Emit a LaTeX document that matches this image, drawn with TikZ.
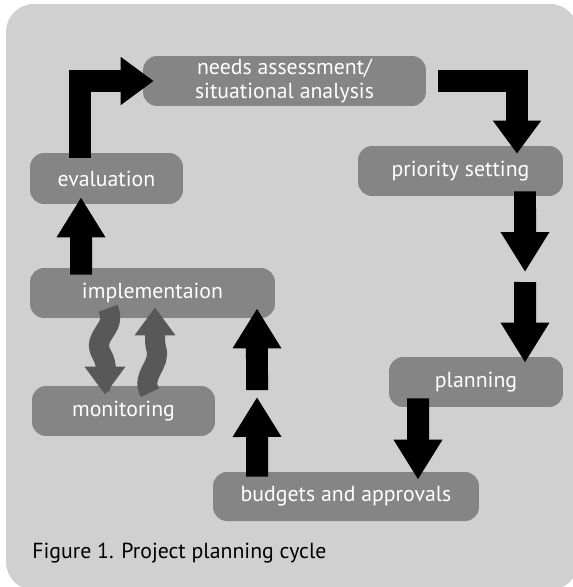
\documentclass[tikz,border=0pt]{standalone}
\usepackage{fontspec}
\setmainfont{PT Sans}
\usetikzlibrary{arrows.meta}
\definecolor{bggray}{RGB}{208,208,208}
\definecolor{boxgray}{RGB}{133,133,133}
\definecolor{wavegray}{RGB}{88,88,88}
\begin{document}
\begin{tikzpicture}[x=0.02cm, y=-0.02cm,
    stage/.style={fill=boxgray, rounded corners=0.28cm, text=white, font=\fontsize{12.4}{13.5}\selectfont, align=center, inner sep=0pt},
    blk/.style={line width=0.44cm, black, -{Triangle[width=0.92cm,length=0.8cm]}},
    wave/.style={line width=0.4cm, wavegray, -{Triangle[width=0.78cm,length=0.56cm]}}]
    \useasboundingbox (0,0) rectangle (572,587);
    \fill[bggray, rounded corners=0.56cm] (6,4) rectangle (578,590);
    % stages of the cycle
    \node[stage, minimum width=5.66cm, minimum height=1cm] (needs) at (284.5,81){needs assessment/\\situational analysis};
    \node[stage, minimum width=4.1cm, minimum height=1cm] (prio) at (460.5,171){priority setting};
    \node[stage, minimum width=3.48cm, minimum height=1cm] (plan) at (476,382){planning};
    \node[stage, minimum width=5.32cm, minimum height=0.98cm] (budget) at (346,496.5){budgets and approvals};
    \node[stage, minimum width=4.9cm, minimum height=1cm] (impl) at (152.5,293){implementaion};
    \node[stage, minimum width=3.66cm, minimum height=1cm] (mon) at (123.5,411){monitoring};
    \node[stage, minimum width=3.06cm, minimum height=1.02cm] (eval) at (106.5,178.5){evaluation};
    \coordinate (gapR) at (525,277);
    \coordinate (gapL) at (257,393.5);
    % block arrows
    \draw[blk, -{Triangle[width=0.92cm,length=0.66cm]}] ([xshift=-0.53cm,yshift=-0.1cm]eval.north) |- ([xshift=0.22cm]needs.west);
    \draw[blk, -{Triangle[width=0.92cm,length=0.66cm]}] ([xshift=0.24cm]needs.east) -| ([xshift=1.13cm,yshift=-0.16cm]prio.north);
    \draw[blk] ([xshift=1.29cm,yshift=0.1cm]prio.south) -- ([yshift=0.1cm]gapR);
    \draw[blk] ([yshift=-0.1cm]gapR) -- ([xshift=0.98cm,yshift=-0.12cm]plan.north);
    \draw[blk] ([xshift=-1.16cm,yshift=0.18cm]plan.south) -- ([xshift=1.44cm,yshift=-0.16cm]budget.north);
    \draw[blk] ([xshift=-1.78cm,yshift=-0.1cm]budget.north) -- ([yshift=-0.07cm]gapL);
    \draw[blk] ([yshift=0.07cm]gapL) -- ([xshift=2.09cm,yshift=0.2cm]impl.south);
    \draw[blk] ([xshift=-1.43cm,yshift=-0.14cm]impl.north) -- ([xshift=-0.51cm,yshift=0.14cm]eval.south);
    % wavy arrows
    \draw[wave] ([xshift=-0.89cm,yshift=0.2cm]impl.south) .. controls (118,330) and (90,335) .. (102,355) .. controls (108,365) and (105,375) .. ([xshift=-0.37cm,yshift=-0.18cm]mon.north);
    \draw[wave] ([xshift=0.53cm,yshift=-0.14cm]mon.north) .. controls (140,375) and (162,365) .. (156,348) .. controls (155,343) and (155,340) .. ([xshift=0.05cm,yshift=0.22cm]impl.south);
    \node (cap) at (32,553)[anchor=west, inner sep=0pt, font=\fontsize{12.4}{13.5}\selectfont]{Figure 1. Project planning cycle};
\end{tikzpicture}
\end{document}
